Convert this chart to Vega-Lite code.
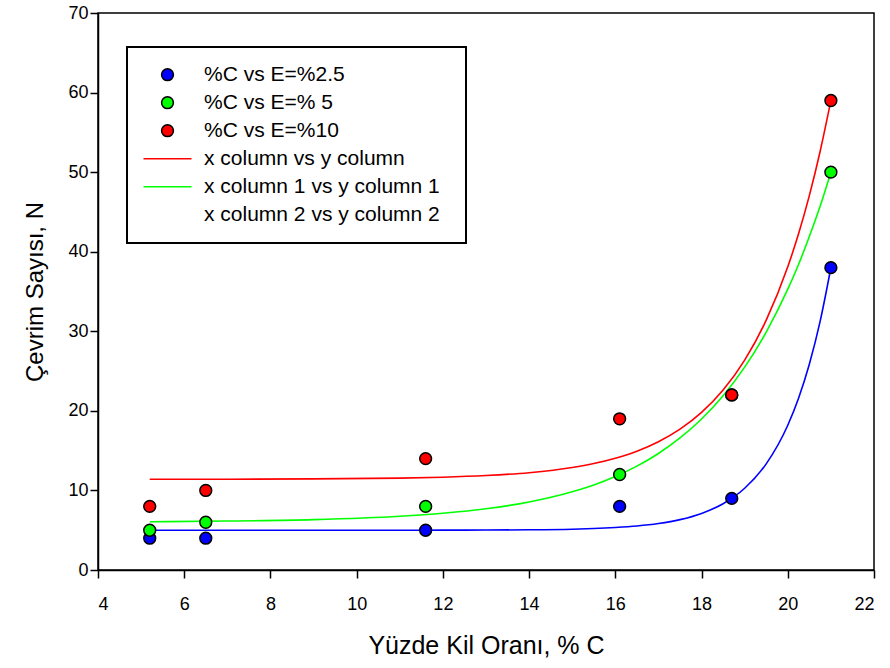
{
  "$schema": "https://vega.github.io/schema/vega-lite/v6.json",
  "width": 776,
  "height": 557,
  "autosize": "none",
  "padding": {"left": 98, "top": 13, "right": 16, "bottom": 98},
  "background": "white",
  "config": {
    "font": "Liberation Sans",
    "view": {"stroke": "black", "strokeWidth": 1.5},
    "axis": {
      "grid": false,
      "domainColor": "black",
      "domainWidth": 1.5,
      "tickColor": "black",
      "tickWidth": 1.5,
      "tickSize": 8,
      "labelColor": "black",
      "titleColor": "black",
      "labelFont": "Liberation Sans",
      "titleFont": "Liberation Sans",
      "labelFontSize": 18,
      "titleFontWeight": "normal"
    },
    "legend": {
      "orient": "none",
      "legendX": 29,
      "legendY": 34,
      "padding": 14,
      "fillColor": "white",
      "strokeColor": "black",
      "strokeWidth": 2,
      "labelFont": "Liberation Sans",
      "labelFontSize": 21,
      "labelColor": "black",
      "labelLimit": 400,
      "symbolOffset": 1.5,
      "labelOffset": 11.5,
      "clipHeight": 27.4,
      "rowPadding": 0,
      "symbolStrokeWidth": 1.5,
      "symbolFillColor": "black",
      "symbolStrokeColor": "black",
      "symbolOpacity": 1
    }
  },
  "datasets": {
    "points": [
      {"x": 5.2, "y": 4, "series": "%C vs E=%2.5"},
      {"x": 6.5, "y": 4, "series": "%C vs E=%2.5"},
      {"x": 11.6, "y": 5, "series": "%C vs E=%2.5"},
      {"x": 16.1, "y": 8, "series": "%C vs E=%2.5"},
      {"x": 18.7, "y": 9, "series": "%C vs E=%2.5"},
      {"x": 21, "y": 38, "series": "%C vs E=%2.5"},
      {"x": 5.2, "y": 5, "series": "%C vs E=% 5"},
      {"x": 6.5, "y": 6, "series": "%C vs E=% 5"},
      {"x": 11.6, "y": 8, "series": "%C vs E=% 5"},
      {"x": 16.1, "y": 12, "series": "%C vs E=% 5"},
      {"x": 18.7, "y": 22, "series": "%C vs E=% 5"},
      {"x": 21, "y": 50, "series": "%C vs E=% 5"},
      {"x": 5.2, "y": 8, "series": "%C vs E=%10"},
      {"x": 6.5, "y": 10, "series": "%C vs E=%10"},
      {"x": 11.6, "y": 14, "series": "%C vs E=%10"},
      {"x": 16.1, "y": 19, "series": "%C vs E=%10"},
      {"x": 18.7, "y": 22, "series": "%C vs E=%10"},
      {"x": 21, "y": 59, "series": "%C vs E=%10"}
    ],
    "curves": [
      {"x": 5.2, "y": 11.41, "series": "x column vs y column"},
      {"x": 7, "y": 11.41, "series": "x column vs y column"},
      {"x": 9, "y": 11.45, "series": "x column vs y column"},
      {"x": 11, "y": 11.55, "series": "x column vs y column"},
      {"x": 12, "y": 11.66, "series": "x column vs y column"},
      {"x": 13, "y": 11.87, "series": "x column vs y column"},
      {"x": 14, "y": 12.23, "series": "x column vs y column"},
      {"x": 15, "y": 12.88, "series": "x column vs y column"},
      {"x": 15.5, "y": 13.38, "series": "x column vs y column"},
      {"x": 16, "y": 14.05, "series": "x column vs y column"},
      {"x": 16.5, "y": 14.93, "series": "x column vs y column"},
      {"x": 17, "y": 16.12, "series": "x column vs y column"},
      {"x": 17.5, "y": 17.7, "series": "x column vs y column"},
      {"x": 18, "y": 19.81, "series": "x column vs y column"},
      {"x": 18.5, "y": 22.62, "series": "x column vs y column"},
      {"x": 19, "y": 26.38, "series": "x column vs y column"},
      {"x": 19.5, "y": 31.4, "series": "x column vs y column"},
      {"x": 20, "y": 38.1, "series": "x column vs y column"},
      {"x": 20.25, "y": 42.25, "series": "x column vs y column"},
      {"x": 20.5, "y": 47.05, "series": "x column vs y column"},
      {"x": 20.75, "y": 52.6, "series": "x column vs y column"},
      {"x": 21, "y": 59, "series": "x column vs y column"},
      {"x": 5.2, "y": 6.07, "series": "x column 1 vs y column 1"},
      {"x": 7, "y": 6.15, "series": "x column 1 vs y column 1"},
      {"x": 9, "y": 6.33, "series": "x column 1 vs y column 1"},
      {"x": 11, "y": 6.75, "series": "x column 1 vs y column 1"},
      {"x": 12, "y": 7.13, "series": "x column 1 vs y column 1"},
      {"x": 13, "y": 7.69, "series": "x column 1 vs y column 1"},
      {"x": 14, "y": 8.55, "series": "x column 1 vs y column 1"},
      {"x": 15, "y": 9.83, "series": "x column 1 vs y column 1"},
      {"x": 15.5, "y": 10.69, "series": "x column 1 vs y column 1"},
      {"x": 16, "y": 11.75, "series": "x column 1 vs y column 1"},
      {"x": 16.5, "y": 13.05, "series": "x column 1 vs y column 1"},
      {"x": 17, "y": 14.64, "series": "x column 1 vs y column 1"},
      {"x": 17.5, "y": 16.59, "series": "x column 1 vs y column 1"},
      {"x": 18, "y": 18.98, "series": "x column 1 vs y column 1"},
      {"x": 18.5, "y": 21.9, "series": "x column 1 vs y column 1"},
      {"x": 19, "y": 25.49, "series": "x column 1 vs y column 1"},
      {"x": 19.5, "y": 29.9, "series": "x column 1 vs y column 1"},
      {"x": 20, "y": 35.29, "series": "x column 1 vs y column 1"},
      {"x": 20.25, "y": 38.4, "series": "x column 1 vs y column 1"},
      {"x": 20.5, "y": 41.9, "series": "x column 1 vs y column 1"},
      {"x": 20.75, "y": 45.7, "series": "x column 1 vs y column 1"},
      {"x": 21, "y": 50, "series": "x column 1 vs y column 1"},
      {"x": 5.2, "y": 5.0, "series": "x column 2 vs y column 2"},
      {"x": 7, "y": 5.0, "series": "x column 2 vs y column 2"},
      {"x": 9, "y": 5.0, "series": "x column 2 vs y column 2"},
      {"x": 11, "y": 5.0, "series": "x column 2 vs y column 2"},
      {"x": 12, "y": 5.01, "series": "x column 2 vs y column 2"},
      {"x": 13, "y": 5.02, "series": "x column 2 vs y column 2"},
      {"x": 14, "y": 5.05, "series": "x column 2 vs y column 2"},
      {"x": 15, "y": 5.13, "series": "x column 2 vs y column 2"},
      {"x": 15.5, "y": 5.21, "series": "x column 2 vs y column 2"},
      {"x": 16, "y": 5.34, "series": "x column 2 vs y column 2"},
      {"x": 16.5, "y": 5.53, "series": "x column 2 vs y column 2"},
      {"x": 17, "y": 5.84, "series": "x column 2 vs y column 2"},
      {"x": 17.5, "y": 6.33, "series": "x column 2 vs y column 2"},
      {"x": 18, "y": 7.11, "series": "x column 2 vs y column 2"},
      {"x": 18.5, "y": 8.33, "series": "x column 2 vs y column 2"},
      {"x": 19, "y": 10.27, "series": "x column 2 vs y column 2"},
      {"x": 19.5, "y": 13.34, "series": "x column 2 vs y column 2"},
      {"x": 20, "y": 18.19, "series": "x column 2 vs y column 2"},
      {"x": 20.25, "y": 21.59, "series": "x column 2 vs y column 2"},
      {"x": 20.5, "y": 25.86, "series": "x column 2 vs y column 2"},
      {"x": 20.75, "y": 31.24, "series": "x column 2 vs y column 2"},
      {"x": 21, "y": 38, "series": "x column 2 vs y column 2"}
    ]
  },
  "encoding": {
    "x": {
      "field": "x", "type": "quantitative",
      "scale": {"domain": [4, 22], "nice": false, "zero": false},
      "axis": {"values": [4, 6, 8, 10, 12, 14, 16, 18, 20, 22], "title": "Yüzde Kil Oranı, % C", "titleFontSize": 25, "labelPadding": 17, "titlePadding": 20}
    },
    "y": {
      "field": "y", "type": "quantitative",
      "scale": {"domain": [0, 70], "nice": false},
      "axis": {"values": [0, 10, 20, 30, 40, 50, 60, 70], "title": "Çevrim Sayısı, N", "titleFontSize": 24, "labelPadding": 2, "titlePadding": 20}
    }
  },
  "layer": [
    {
      "data": {"name": "curves"},
      "mark": {"type": "line", "interpolate": "monotone", "strokeWidth": 1.6},
      "encoding": {
        "color": {
          "field": "series", "type": "nominal",
          "scale": {"domain": ["x column vs y column", "x column 1 vs y column 1", "x column 2 vs y column 2"], "range": ["#ff0000", "#00ff00", "#0000ff"]},
          "legend": null
        }
      }
    },
    {
      "data": {"name": "points"},
      "mark": {"type": "point", "filled": true, "strokeWidth": 1.5, "opacity": 1},
      "encoding": {
        "fill": {
          "field": "series", "type": "nominal", "title": null,
          "scale": {
            "domain": ["%C vs E=%2.5", "%C vs E=% 5", "%C vs E=%10", "x column vs y column", "x column 1 vs y column 1", "x column 2 vs y column 2"],
            "range": ["#0000ff", "#00ff00", "#ff0000", "#ff0000", "#00ff00", "#0000ff"]
          },
          "legend": {
            "labelExpr": "datum.label == 'x column 2 vs y column 2' ? datum.label + '\u00a0\u00a0\u200b' : datum.label"
          }
        },
        "stroke": {
          "field": "series", "type": "nominal", "title": null,
          "scale": {
            "domain": ["%C vs E=%2.5", "%C vs E=% 5", "%C vs E=%10", "x column vs y column", "x column 1 vs y column 1", "x column 2 vs y column 2"],
            "range": ["#000000", "#000000", "#000000", "#ff0000", "#00ff00", "transparent"]
          },
          "legend": {
            "labelExpr": "datum.label == 'x column 2 vs y column 2' ? datum.label + '\u00a0\u00a0\u200b' : datum.label"
          }
        },
        "shape": {
          "field": "series", "type": "nominal", "title": null,
          "scale": {
            "domain": ["%C vs E=%2.5", "%C vs E=% 5", "%C vs E=%10", "x column vs y column", "x column 1 vs y column 1", "x column 2 vs y column 2"],
            "range": ["circle", "circle", "circle", "stroke", "stroke", "stroke"]
          },
          "legend": {
            "labelExpr": "datum.label == 'x column 2 vs y column 2' ? datum.label + '\u00a0\u00a0\u200b' : datum.label"
          }
        },
        "size": {
          "field": "series", "type": "nominal", "title": null,
          "scale": {
            "type": "ordinal",
            "domain": ["%C vs E=%2.5", "%C vs E=% 5", "%C vs E=%10", "x column vs y column", "x column 1 vs y column 1", "x column 2 vs y column 2"],
            "range": [140, 140, 140, 2304, 2304, 2304]
          },
          "legend": {
            "labelExpr": "datum.label == 'x column 2 vs y column 2' ? datum.label + '\u00a0\u00a0\u200b' : datum.label"
          }
        }
      }
    }
  ]
}
